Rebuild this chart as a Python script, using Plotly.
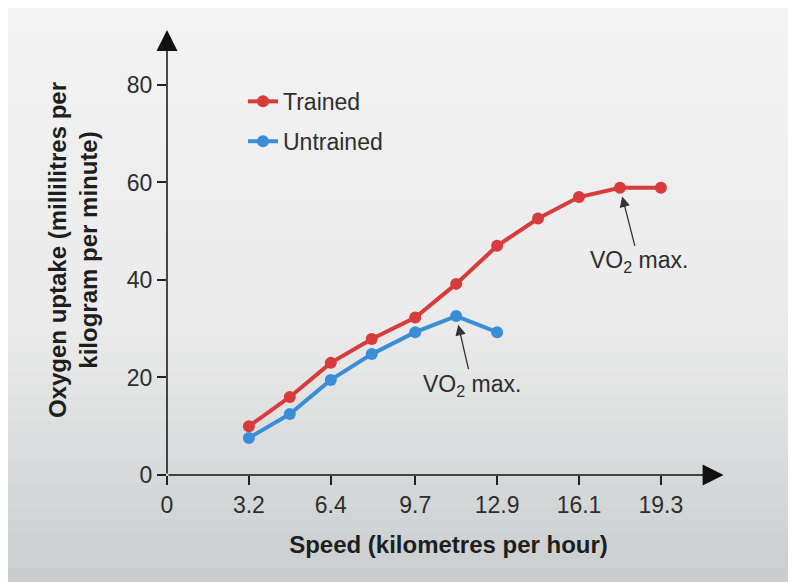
import plotly.graph_objects as go

# Data
speed_trained = [3.2, 4.8, 6.4, 8.0, 9.7, 11.3, 12.9, 14.5, 16.1, 17.7, 19.3]
uptake_trained = [10.0, 16.0, 23.0, 27.9, 32.3, 39.2, 47.0, 52.6, 57.0, 58.9, 58.9]
speed_untrained = [3.2, 4.8, 6.4, 8.0, 9.7, 11.3, 12.9]
uptake_untrained = [7.6, 12.5, 19.5, 24.8, 29.3, 32.6, 29.3]
x_ticks = [0, 3.2, 6.4, 9.7, 12.9, 16.1, 19.3]
x_tick_labels = ["0", "3.2", "6.4", "9.7", "12.9", "16.1", "19.3"]
y_ticks = [0, 20, 40, 60, 80]

RED = "#d83b3b"
BLUE = "#3a8ed8"
FONT = "Liberation Sans, Arial, sans-serif"
TXT = "#2e2e2e"

fig = go.Figure()
fig.add_trace(go.Scatter(
    x=speed_trained, y=uptake_trained, mode="lines+markers", name="Trained",
    legendgroup="a", line=dict(color=RED, width=4), marker=dict(color=RED, size=12),
    cliponaxis=False))
fig.add_trace(go.Scatter(
    x=speed_untrained, y=uptake_untrained, mode="lines+markers", name="Untrained",
    legendgroup="b", line=dict(color=BLUE, width=4), marker=dict(color=BLUE, size=12),
    cliponaxis=False))

# Axis arrows
fig.add_annotation(x=21.75, y=0, ax=0, ay=0, xref="x", yref="y", axref="x", ayref="y",
                   showarrow=True, arrowhead=2, arrowsize=2.8, arrowwidth=1.5,
                   arrowcolor="#111111", text="")
fig.add_annotation(x=0, y=91.3, ax=0, ay=0, xref="x", yref="y", axref="x", ayref="y",
                   showarrow=True, arrowhead=2, arrowsize=2.8, arrowwidth=1.5,
                   arrowcolor="#111111", text="")

# VO2 max annotations
fig.add_annotation(x=speed_trained[9], y=uptake_trained[9], ax=19, ay=74,
                   text="VO<sub>2</sub> max.", showarrow=True, arrowhead=2,
                   arrowsize=1.6, arrowwidth=1.3, arrowcolor="#333333", standoff=9,
                   font=dict(family=FONT, size=23, color=TXT))
fig.add_annotation(x=speed_untrained[5], y=uptake_untrained[5], ax=16, ay=69,
                   text="VO<sub>2</sub> max.", showarrow=True, arrowhead=2,
                   arrowsize=1.6, arrowwidth=1.3, arrowcolor="#333333", standoff=9,
                   font=dict(family=FONT, size=23, color=TXT))

# Background vertical gradient (bands)
def lerp(c1, c2, t):
    return tuple(round(a + (b - a) * t) for a, b in zip(c1, c2))

top_c, mid_c, bot_c = (243, 243, 243), (234, 234, 234), (201, 205, 206)
n = 48
y_top, y_bot = 1.04, -0.26
for i in range(n):
    t = i / (n - 1)
    c = lerp(top_c, mid_c, t / 0.55) if t < 0.55 else lerp(mid_c, bot_c, (t - 0.55) / 0.45)
    y1 = y_top - (y_top - y_bot) * i / n
    y0 = y_top - (y_top - y_bot) * (i + 1) / n - 0.002
    fig.add_shape(type="rect", xref="paper", yref="paper", x0=-0.3, x1=1.15, y0=y0, y1=y1,
                  fillcolor="rgb(%d,%d,%d)" % c, line=dict(width=0), layer="below")

fig.update_layout(
    width=796, height=582,
    margin=dict(l=159, r=74, t=17, b=115),
    paper_bgcolor="#ebebeb", plot_bgcolor="rgba(0,0,0,0)",
    font=dict(family=FONT, size=23, color=TXT),
    showlegend=True,
    legend=dict(x=0.135, y=0.878, xanchor="left", yanchor="top", bgcolor="rgba(0,0,0,0)",
                font=dict(size=23, color=TXT), tracegroupgap=7),
    xaxis=dict(range=[0, 22.0], tickvals=x_ticks, ticktext=x_tick_labels,
               showgrid=False, zeroline=False, showline=False,
               ticks="outside", ticklen=9, tickwidth=1.5, tickcolor="#222222",
               tickfont=dict(size=23, color=TXT),
               title=dict(text="<b>Speed (kilometres per hour)</b>", standoff=19,
                          font=dict(size=24, color="#1e1e1e"))),
    yaxis=dict(range=[0, 92.3], tickvals=y_ticks,
               showgrid=False, zeroline=False, showline=False,
               ticks="outside", ticklen=9, tickwidth=1.5, tickcolor="#222222",
               tickfont=dict(size=23, color=TXT),
               title=dict(text="<b>Oxygen uptake (millilitres per<br>kilogram per minute)</b>",
                          standoff=22, font=dict(size=24, color="#1e1e1e"))),
)

fig.write_html("out.html")
